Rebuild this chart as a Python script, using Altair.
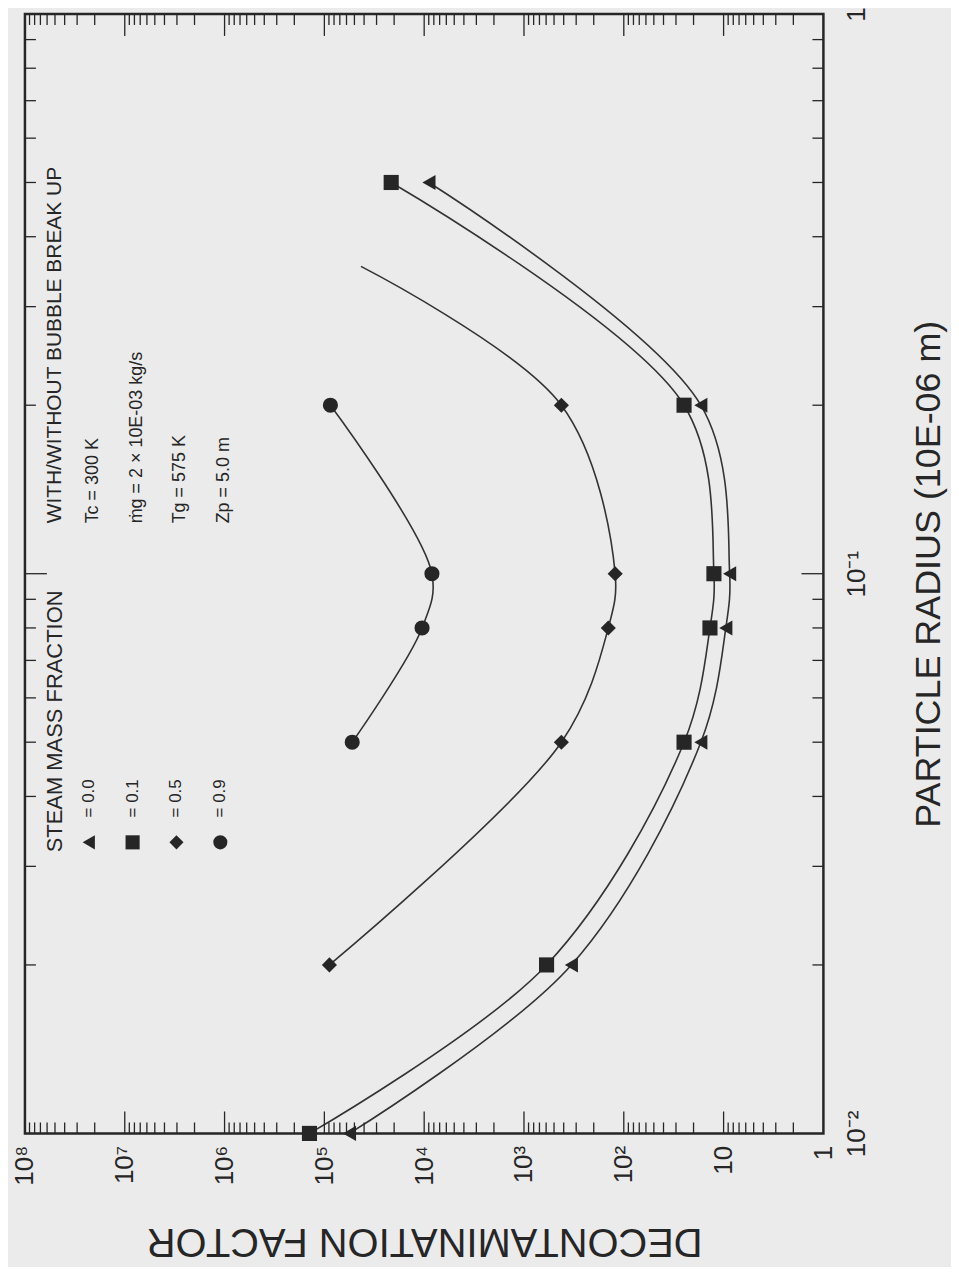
import json
import altair as alt
import pandas as pd

# ---------------- data ----------------
series_keys = ["0.0", "0.1", "0.5", "0.9"]
series_labels = ["= 0.0", "= 0.1", "= 0.5", "= 0.9"]
series_shapes = ["triangle-left", "square", "diamond", "circle"]

radius_00 = [0.01, 0.02, 0.05, 0.08, 0.1, 0.2, 0.5]
df_00 = [5.6e4, 335, 16.9, 9.5, 8.7, 16.9, 8960]

radius_01 = [0.01, 0.02, 0.05, 0.08, 0.1, 0.2, 0.5]
df_01 = [1.41e5, 594, 24.9, 13.7, 12.5, 24.9, 2.14e4]

radius_05 = [0.02, 0.05, 0.08, 0.1, 0.2]
df_05 = [8.9e4, 422, 143, 122, 422]
radius_05_curve_end = [0.354]     # curve continues without a marker
df_05_curve_end = [4.3e4]

radius_09 = [0.05, 0.08, 0.1, 0.2]
df_09 = [5.26e4, 1.05e4, 8.36e3, 8.7e4]

df_tick_values = [1, 10, 1e2, 1e3, 1e4, 1e5, 1e6, 1e7, 1e8]
df_tick_labels = ["1", "10", "10²", "10³", "10⁴", "10⁵", "10⁶", "10⁷", "10⁸"]
radius_tick_values = [0.01, 0.1, 1]
radius_tick_labels = ["10⁻²", "10⁻¹", "1"]

legend_title = "STEAM MASS FRACTION"
cond_lines = ["WITH/WITHOUT BUBBLE BREAK UP", "Tc = 300 K",
              "ṁg = 2 × 10E-03 kg/s", "Tg = 575 K", "Zp = 5.0 m"]

# ---------------- tables ----------------
rows = []
for key, rr, dd in [("0.0", radius_00, df_00), ("0.1", radius_01, df_01),
                    ("0.5", radius_05, df_05), ("0.9", radius_09, df_09)]:
    for r, d in zip(rr, dd):
        rows.append({"series": key, "r": r, "df": d, "marker": True})
for r, d in zip(radius_05_curve_end, df_05_curve_end):
    rows.append({"series": "0.5", "r": r, "df": d, "marker": False})
data = pd.DataFrame(rows)

mant = [2, 3, 4, 5, 6, 7, 8, 9]
x_minor = pd.DataFrame({"v": [m * 10 ** k for k in range(0, 8) for m in mant]})
x_major = pd.DataFrame({"v": df_tick_values[1:-1]})
y_minor = pd.DataFrame({"v": [m * 10.0 ** k for k in (-2, -1) for m in mant]})
y_major = pd.DataFrame({"v": [0.1]})

W, H = 801, 1123
INK = "#262626"
FONT = "Liberation Sans"

xs = alt.Scale(type="log", domain=[1, 1e8], reverse=True, nice=False)
ys = alt.Scale(type="log", domain=[0.01, 1], nice=False)

x_label_expr = json.dumps(df_tick_labels, ensure_ascii=False) + "[round(log(datum.value)/LN10)]"
y_label_expr = json.dumps(radius_tick_labels, ensure_ascii=False) + "[round(log(datum.value)/LN10)+2]"

x_axis = alt.Axis(values=df_tick_values, labelExpr=x_label_expr, ticks=False, domain=False,
                  grid=False, labelAngle=270, labelAlign="right", labelBaseline="middle",
                  labelPadding=12, labelFontSize=26, labelFont=FONT, labelColor=INK,
                  labelOverlap=False, labelFlush=False,
                  title="DECONTAMINATION FACTOR", titleAngle=180, titleBaseline="bottom",
                  titleFontSize=40, titleFont=FONT, titleFontWeight="normal",
                  titleColor=INK, titlePadding=35)
y_axis = alt.Axis(orient="right", values=radius_tick_values, labelExpr=y_label_expr,
                  ticks=False, domain=False, grid=False, labelAngle=270,
                  labelAlign="center", labelBaseline="top", labelPadding=20,
                  labelFontSize=26, labelFont=FONT, labelColor=INK, labelOverlap=False,
                  labelFlush=False,
                  title="PARTICLE RADIUS (10E-06 m)", titleAngle=270, titleBaseline="top",
                  titleFontSize=36, titleFont=FONT,
                  titleFontWeight="normal", titleColor=INK, titlePadding=42)


def X(field):
    return alt.X(field, scale=xs, axis=x_axis)


def Y(field):
    return alt.Y(field, scale=ys, axis=y_axis)


lines = alt.Chart(data).mark_line(interpolate="catmull-rom", color="#333",
                                  strokeWidth=1.6).encode(
    x=X("df:Q"), y=Y("r:Q"),
    detail="series:N",
    order=alt.Order("r:Q"),
)

points = alt.Chart(data).transform_filter("datum.marker").mark_point(
    filled=True, opacity=1, color=INK, size=230).encode(
    x=X("df:Q"), y=Y("r:Q"),
    shape=alt.Shape("series:N", scale=alt.Scale(domain=series_keys, range=series_shapes),
                    legend=None),
)


def xticks(df, y0, y1):
    return alt.Chart(df).mark_rule(color=INK, strokeWidth=1.3).encode(
        x=X("v:Q"), y=alt.value(y0), y2=alt.value(y1))


def yticks(df, x0, x1):
    return alt.Chart(df).mark_rule(color=INK, strokeWidth=1.3).encode(
        y=Y("v:Q"), x=alt.value(x0), x2=alt.value(x1))


ticks = [
    xticks(x_major, H, H - 22), xticks(x_minor, H, H - 11),
    xticks(x_major, 0, 22), xticks(x_minor, 0, 11),
    yticks(y_major, 0, 22), yticks(y_minor, 0, 11),
    yticks(y_major, W, W - 22), yticks(y_minor, W, W - 11),
]

# legend (rotated like the whole figure)
legend_layers = []
legend_layers.append(alt.Chart(pd.DataFrame({"t": [legend_title]})).mark_text(
    angle=270, align="left", baseline="middle", fontSize=22, font=FONT, color=INK
).encode(text="t:N", x=alt.value(30), y=alt.value(841)))
for i, (key, lab, shp) in enumerate(zip(series_keys, series_labels, series_shapes)):
    legend_layers.append(alt.Chart(pd.DataFrame({"t": [lab]})).mark_text(
        angle=270, align="left", baseline="middle", fontSize=17, font=FONT, color=INK
    ).encode(text="t:N", x=alt.value(64 + 44 * i), y=alt.value(806)))
    legend_layers.append(alt.Chart(pd.DataFrame({"t": [lab]})).mark_point(
        filled=True, opacity=1, color=INK, size=200, shape=shp
    ).encode(x=alt.value(64 + 44 * i), y=alt.value(831)))

for i, line in enumerate(cond_lines):
    legend_layers.append(alt.Chart(pd.DataFrame({"t": [line]})).mark_text(
        angle=270, align="left", baseline="middle", fontSize=21 if i == 0 else 18,
        font=FONT, color=INK
    ).encode(text="t:N", x=alt.value(30 if i == 0 else 68 + 44 * (i - 1)),
             y=alt.value(511)))

chart = alt.layer(lines, points, *ticks, *legend_layers).properties(
    width=W, height=H, background="#ebebeb",
    autosize=alt.AutoSizeParams(type="none"),
    padding={"left": 17, "top": 4, "right": 128, "bottom": 132},
).configure_view(stroke=INK, strokeWidth=2.5)

chart.save("out.html", embed_options={"renderer": "svg", "actions": False})
